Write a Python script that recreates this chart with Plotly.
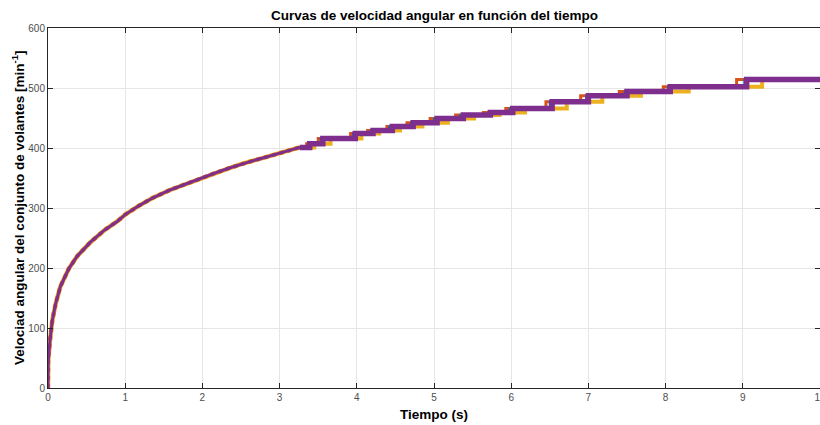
import plotly.graph_objects as go

# --- data ---
# smooth early part of the angular-velocity curve (purple, drawn last)
t_smooth = [0, 0.003, 0.026, 0.056, 0.10, 0.16, 0.27, 0.38, 0.55, 0.73, 0.90, 1.0,
            1.18, 1.36, 1.58, 1.8, 2.03, 2.2, 2.36, 2.5, 2.66, 2.83, 3.0, 3.1, 3.26]
v_smooth = [0, 45, 80, 113, 141, 169, 199, 220, 243, 263, 278, 289,
            304, 317, 330, 341, 352, 360, 367, 373, 379, 385, 391, 395, 401]

# quantised (staircase) later part, purple
t_steps = [3.26, 3.39, 3.56, 3.98, 4.21, 4.46, 4.73, 5.04, 5.38, 5.73, 6.02, 6.53,
           7.0, 7.5, 8.06, 9.05, 10.0]
v_steps = [401, 407, 416, 424, 429, 436, 442, 449, 455, 459, 466, 477,
           487, 494, 502, 514, 516]

# yellow series: switches to each level a little later (visible under the band)
t_yellow = [3.30, 3.45, 3.66, 4.06, 4.29, 4.56, 4.85, 5.18, 5.52, 5.85, 6.18, 6.72,
            7.18, 7.68, 8.30, 9.25, 10.0]
v_yellow = [401, 407, 416, 424, 429, 436, 442, 449, 455, 459, 466, 477,
            487, 494, 502, 514, 516]

# orange series: reaches each level a little earlier (visible above the band)
t_orange = [3.22, 3.35, 3.50, 3.92, 4.14, 4.39, 4.65, 4.95, 5.28, 5.64, 5.93, 6.45,
            6.90, 7.40, 7.97, 8.92, 10.0]
v_orange = [401, 407, 416, 424, 429, 436, 442, 449, 455, 459, 466, 477,
            487, 494, 502, 514, 516]

# blue series (thin, mostly hidden)
t_blue = [3.24, 3.37, 3.53, 3.95, 4.18, 4.42, 4.70, 5.00, 5.34, 5.70, 5.98, 6.50,
          6.97, 7.47, 8.03, 9.02, 10.0]
v_blue = v_orange

title = "Curvas de velocidad angular en función del tiempo"
xlabel = "Tiempo (s)"
ylabel = "Velociad angular del conjunto de volantes [min<sup>-1</sup>]"
x_ticks = list(range(0, 11))
y_ticks = list(range(0, 700, 100))

C_BLUE = "#0072BD"
C_ORANGE = "#D95319"
C_YELLOW = "#EDB120"
C_PURPLE = "#7E2F8E"
FONT = "Liberation Sans, Arial, sans-serif"

fig = go.Figure()

# smooth part, colored lines beneath
fig.add_trace(go.Scatter(x=t_smooth, y=v_smooth, mode="lines",
                         line=dict(color=C_YELLOW, width=4.5), hoverinfo="skip"))
fig.add_trace(go.Scatter(x=t_smooth, y=v_smooth, mode="lines",
                         line=dict(color=C_ORANGE, width=4, dash="dot"), hoverinfo="skip"))

# staircase part
fig.add_trace(go.Scatter(x=t_yellow, y=v_yellow, mode="lines", line_shape="hv",
                         line=dict(color=C_YELLOW, width=4), hoverinfo="skip"))
fig.add_trace(go.Scatter(x=t_orange, y=v_orange, mode="lines", line_shape="hv",
                         line=dict(color=C_ORANGE, width=3), hoverinfo="skip"))
fig.add_trace(go.Scatter(x=t_blue, y=v_blue, mode="lines", line_shape="hv",
                         line=dict(color=C_BLUE, width=2), hoverinfo="skip"))

# purple on top
fig.add_trace(go.Scatter(x=t_smooth, y=v_smooth, mode="lines",
                         line=dict(color=C_PURPLE, width=3), hoverinfo="skip"))
fig.add_trace(go.Scatter(x=t_steps, y=v_steps, mode="lines", line_shape="hv",
                         line=dict(color=C_PURPLE, width=5.5), hoverinfo="skip"))

axis_common = dict(
    showline=True, linecolor="#262626", linewidth=1, mirror="ticks",
    ticks="inside", ticklen=5, tickcolor="#262626",
    showgrid=True, gridcolor="#e6e6e6", gridwidth=1, zeroline=False,
    automargin=False, ticklabeloverflow="allow",
    tickfont=dict(family=FONT, size=10, color="#4d4d4d"),
)

fig.update_layout(
    width=820, height=425,
    margin=dict(l=48, r=0, t=28, b=37),
    paper_bgcolor="white", plot_bgcolor="white",
    showlegend=False,
    xaxis=dict(range=[0, 10], tickvals=x_ticks, ticktext=[str(v) for v in x_ticks],
               **axis_common),
    yaxis=dict(range=[0, 600], tickvals=y_ticks, ticktext=[str(v) for v in y_ticks],
               **axis_common),
    annotations=[
        dict(text="<b>" + title + "</b>", xref="paper", yref="paper",
             x=0.5, y=1, xanchor="center", yanchor="middle", yshift=13,
             showarrow=False, font=dict(family=FONT, size=13.5, color="#000000")),
        dict(text="<b>" + xlabel + "</b>", xref="paper", yref="paper",
             x=0.5, y=0, xanchor="center", yanchor="middle", yshift=-26,
             showarrow=False, font=dict(family=FONT, size=13.5, color="#000000")),
        dict(text="<b>" + ylabel + "</b>", xref="paper", yref="paper",
             x=0, y=0.5, xanchor="center", yanchor="middle", xshift=-30,
             textangle=-90, showarrow=False,
             font=dict(family=FONT, size=13.5, color="#000000")),
    ],
)

# remove the default page margin so the 820x425 figure fills the window exactly
fig.write_html(
    "out.html",
    config={"displayModeBar": False},
    post_script="document.body.style.margin='0';document.body.style.overflow='hidden';",
)
